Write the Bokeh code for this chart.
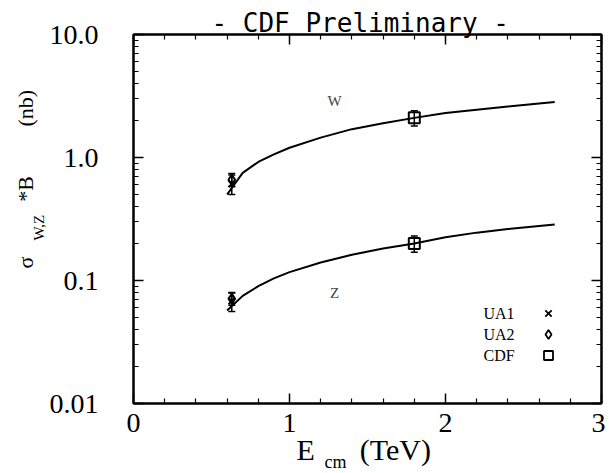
import numpy as np
from bokeh.plotting import figure
from bokeh.models import (LinearAxis, LogAxis, FixedTicker, LogTicker, Range1d, Label, Title,
                          CustomJSTickFormatter)
from bokeh.embed import file_html
from bokeh.resources import INLINE

# ---------------- data ----------------
x_ticks = [0, 1, 2, 3]
x_minor = [0.2, 0.4, 0.6, 0.8, 1.2, 1.4, 1.6, 1.8, 2.2, 2.4, 2.6, 2.8]

E_theory = [0.6, 0.7, 0.8, 0.9, 1.0, 1.2, 1.4, 1.6, 1.8, 2.0, 2.2, 2.4, 2.6, 2.7]
W_theory = [0.50, 0.75, 0.92, 1.06, 1.20, 1.45, 1.70, 1.90, 2.10, 2.30, 2.45, 2.60, 2.75, 2.82]
Z_theory = [0.057, 0.075, 0.090, 0.104, 0.117, 0.140, 0.162, 0.182, 0.200, 0.225, 0.245, 0.262, 0.278, 0.285]

E_ua = [0.63, 0.63]            # W, Z
ua1_val = [0.61, 0.068]
ua1_err = [0.11, 0.012]
ua2_val = [0.66, 0.071]
ua2_err = [0.08, 0.008]

E_cdf = [1.8, 1.8]
cdf_val = [2.1, 0.20]
cdf_err = [0.30, 0.030]

legend_names = ["UA1", "UA2", "CDF"]
legend_markers = ["x", "diamond", "square"]

NB = "\u00a0"

# ---------------- layout helpers (picture px -> data) ----------------
FRAME_L, FRAME_T, FRAME_B = 133, 34, 403
PX_PER_X = 156.0
PX_PER_DEC = 123.0

def px_x(px):
    return (px - FRAME_L) / PX_PER_X

def px_y(py):
    return 10 ** (1 - (py - FRAME_T) / PX_PER_DEC)

SERIF = "Liberation Serif"

p = figure(width=605, height=473, x_range=Range1d(0, 3), y_range=Range1d(0.01, 10),
           y_axis_type="log", output_backend="svg", toolbar_location=None,
           min_border_left=133, min_border_right=4, min_border_top=34, min_border_bottom=70,
           x_axis_location=None, y_axis_location=None)
p.grid.visible = False
p.outline_line_color = "black"
p.outline_line_width = 2
p.background_fill_color = "white"
p.border_fill_color = "white"

yfmt = CustomJSTickFormatter(code="""
if (tick >= 1) { return tick.toFixed(1); }
return String(parseFloat(tick.toPrecision(2)));
""")

def style_axis(ax, labels=True):
    ax.axis_line_color = "black"
    ax.axis_line_width = 2
    ax.major_tick_in = 10
    ax.major_tick_out = 0
    ax.minor_tick_in = 5
    ax.minor_tick_out = 0
    ax.major_tick_line_width = 1.5
    ax.minor_tick_line_width = 1.2
    if labels:
        ax.major_label_text_font = SERIF
        ax.major_label_text_font_size = "28px"
        ax.major_label_text_color = "black"
    else:
        ax.major_label_text_font_size = "1px"
        ax.major_label_text_color = None
        ax.major_label_standoff = 0

xt = LinearAxis(ticker=FixedTicker(ticks=x_ticks, minor_ticks=x_minor))
style_axis(xt, labels=False)
p.add_layout(xt, "above")

# top title (added after the top axis so it sits outside it)
p.add_layout(Title(text="- CDF Preliminary -", text_font="DejaVu Sans Mono", text_font_size="26px",
                   text_font_style="normal", text_color="black", align="left", offset=78,
                   vertical_align="bottom", standoff=-6), "above")

xb = LinearAxis(ticker=FixedTicker(ticks=x_ticks, minor_ticks=x_minor))
style_axis(xb)
xb.major_label_standoff = 10
p.add_layout(xb, "below")

yl = LogAxis(ticker=LogTicker(desired_num_ticks=4, num_minor_ticks=10), formatter=yfmt)
style_axis(yl)
yl.major_label_standoff = 35
p.add_layout(yl, "left")

yr = LogAxis(ticker=LogTicker(desired_num_ticks=4, num_minor_ticks=10))
style_axis(yr, labels=False)
p.add_layout(yr, "right")

# x-axis label  E_cm  (TeV): main row then subscript row
p.add_layout(Title(text="E" + NB * 6 + "(TeV)", text_font=SERIF, text_font_size="30px",
                   text_font_style="normal", text_color="black", align="left", offset=163,
                   vertical_align="top", standoff=-4), "below")
p.add_layout(Title(text="cm", text_font=SERIF, text_font_size="18px", text_font_style="normal",
                   text_color="black", align="left", offset=191, vertical_align="top",
                   standoff=-27), "below")

# y-axis label  sigma_{W,Z}*B  (nb): subscript row (nearer frame) then main row
p.add_layout(Title(text="W,Z", text_font=SERIF, text_font_size="15px", text_font_style="normal",
                   text_color="black", align="left", offset=FRAME_B - 240,
                   vertical_align="bottom", standoff=0), "left")
p.add_layout(Title(text="σ" + NB * 10 + "*B" + NB * 9 + "(nb)", text_font=SERIF, text_font_size="22px",
                   text_font_style="normal", text_color="black", align="left", offset=FRAME_B - 268,
                   vertical_align="bottom", standoff=-19), "left")

# theory curves
p.line(E_theory, W_theory, line_color="black", line_width=2)
p.line(E_theory, Z_theory, line_color="black", line_width=2)

# error bars
for ex, vals, errs in [(E_ua, ua1_val, ua1_err), (E_ua, ua2_val, ua2_err), (E_cdf, cdf_val, cdf_err)]:
    lo = [v - e for v, e in zip(vals, errs)]
    hi = [v + e for v, e in zip(vals, errs)]
    p.segment(ex, lo, ex, hi, line_color="black", line_width=1.5)
    p.scatter(ex, lo, marker="dash", size=7, line_color="black", line_width=1.5)
    p.scatter(ex, hi, marker="dash", size=7, line_color="black", line_width=1.5)

p.scatter(E_ua, ua1_val, marker="x", size=9, line_color="black", line_width=2)
p.scatter(E_ua, ua2_val, marker="diamond", size=10, line_color="black", fill_color=None, line_width=2)
p.scatter(E_cdf, cdf_val, marker="square", size=11, line_color="black", fill_color=None, line_width=2)

# legend (text then marker)
leg_rows_y = [313, 334, 355]
for name, mk, ry in zip(legend_names, legend_markers, leg_rows_y):
    p.add_layout(Label(x=px_x(483), y=px_y(ry), text=name, text_font=SERIF, text_font_size="16px",
                       text_baseline="middle", text_align="left", text_color="black"))
    p.scatter([px_x(548)], [px_y(ry)], marker=mk, size=9, line_color="black", fill_color=None, line_width=1.8)

# W / Z labels
p.add_layout(Label(x=px_x(334), y=px_y(100), text="W", text_font=SERIF, text_font_size="15px",
                   text_align="center", text_baseline="middle"))
p.add_layout(Label(x=px_x(334), y=px_y(292), text="Z", text_font=SERIF, text_font_size="15px",
                   text_align="center", text_baseline="middle"))

open("out.html", "w").write(file_html(p, INLINE))
